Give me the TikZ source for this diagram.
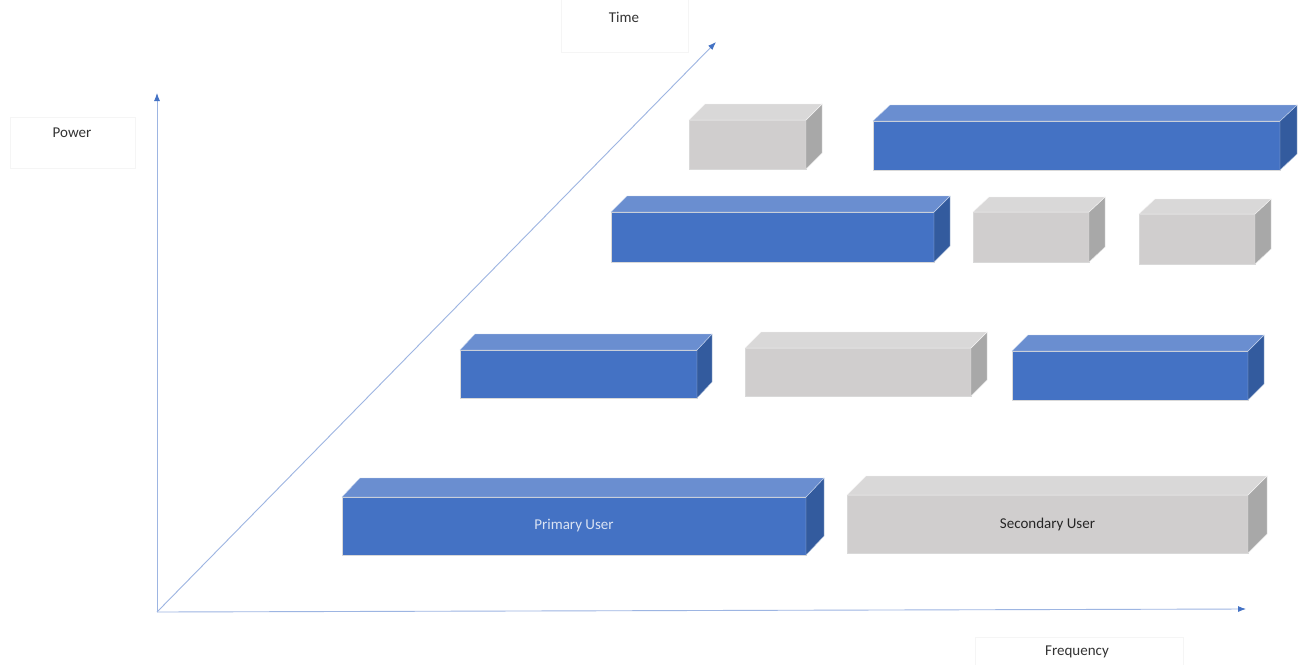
\documentclass[tikz,border=0pt]{standalone}
\usepackage{fontspec}
\setmainfont{Carlito}
\usetikzlibrary{arrows.meta}

\definecolor{bluefront}{HTML}{4472C4}
\definecolor{bluetop}{HTML}{6A8ED0}
\definecolor{blueside}{HTML}{335B9E}
\definecolor{grayfront}{HTML}{D0CECE}
\definecolor{graytop}{HTML}{D9D8D8}
\definecolor{grayside}{HTML}{A8A8A8}
\definecolor{axisline}{HTML}{9DB5E2}
\definecolor{axistip}{HTML}{4472C4}
\definecolor{labeltext}{HTML}{333333}

\tikzset{
  slabfront/.style={rectangle, inner sep=0pt, outer sep=0pt, draw=white!85!black, line width=0.5pt, font=\fontsize{15}{18}\selectfont},
  bluefront/.style={slabfront, fill=bluefront, text=white!80!bluefront},
  grayfront/.style={slabfront, fill=grayfront, text=black!85},
  bluetop/.style={fill=bluetop, draw=white!60!bluetop, line width=0.4pt},
  blueside/.style={fill=blueside, draw=white!60!blueside, line width=0.4pt},
  graytop/.style={fill=graytop, draw=white!70!graytop, line width=0.4pt},
  grayside/.style={fill=grayside, draw=white!70!grayside, line width=0.4pt},
  axis/.style={draw=axisline, line width=0.9pt, -{Latex[length=8pt,width=6pt,fill=axistip,color=axistip]}},
  axisbox/.style={rectangle, draw=black!4, line width=0.6pt, inner sep=0pt},
  axislabel/.style={font=\fontsize{15}{18}\selectfont, text=labeltext, inner sep=0pt}
}

% \slab{name}{kind}{left}{top}{right}{bottom}{depth x}{depth up}{text}
% front face as a node, with the side and top faces drawn from its anchors
\newcommand{\slab}[9]{%
  \pgfmathsetmacro\slabw{#5-#3}%
  \pgfmathsetmacro\slabh{#6-#4}%
  \node[#2front, minimum width=\slabw pt, minimum height=\slabh pt] (#1) at ({(#3+#5)/2},{(#4+#6)/2}) {#9};%
  \filldraw[#2side] (#1.north east) -- ++(#7,-#8) -- ([shift={(#7,-#8)}]#1.south east) -- (#1.south east) -- cycle;%
  \filldraw[#2top] (#1.north west) -- ++(#7,-#8) -- ([shift={(#7,-#8)}]#1.north east) -- (#1.north east) -- cycle;%
}

\begin{document}
\begin{tikzpicture}[x=1pt,y=-1pt]
  \useasboundingbox[fill=white] (0,0) rectangle (1303,664);

  % axis captions in their light frames
  \node[axisbox, minimum width=127pt, minimum height=53pt, anchor=north west] (timebox) at (561,-1) {};
  \node[axislabel] (time) at (624,17) {Time};
  \node[axisbox, minimum width=125pt, minimum height=51pt, anchor=north west] (powerbox) at (10,117) {};
  \node[axislabel] (power) at (72,133) {Power};
  \begin{scope}
    \clip (0,0) rectangle (1303,664);
    \node[axisbox, minimum width=208pt, minimum height=50pt, anchor=north west] (freqbox) at (975,637) {};
  \end{scope}
  \node[axislabel] (freq) at (1077,652) {Frequency};

  % axes
  \coordinate (origin) at (157,612);
  \coordinate (powertip) at (157,93);
  \coordinate (freqtip) at (1246,609);
  \coordinate (timetip) at (716,42);
  \draw[axis] (origin) -- (powertip);
  \draw[axis] (origin) -- (freqtip);
  \draw[axis] (origin) -- (timetip);

  % top row
  \slab{ta}{gray}{689}{120}{806}{169}{16}{16}{}
  \slab{tb}{blue}{873}{121}{1280}{170}{17}{16}{}
  % second row
  \slab{sa}{blue}{611}{212}{934}{262}{16}{16}{}
  \slab{sb}{gray}{973}{212}{1089}{262}{16}{15}{}
  \slab{sc}{gray}{1139}{214}{1255}{264}{16}{15}{}
  % third row
  \slab{ra}{blue}{460}{350}{697}{398}{15}{16}{}
  \slab{rb}{gray}{745}{348}{971}{396}{16}{16}{}
  \slab{rc}{blue}{1012}{351}{1248}{400}{16}{16}{}
  % bottom row
  \slab{primary}{blue}{342}{497}{806}{555}{18}{19}{Primary User}
  \slab{secondary}{gray}{847}{495}{1248}{553}{19}{19}{Secondary User}
\end{tikzpicture}
\end{document}
